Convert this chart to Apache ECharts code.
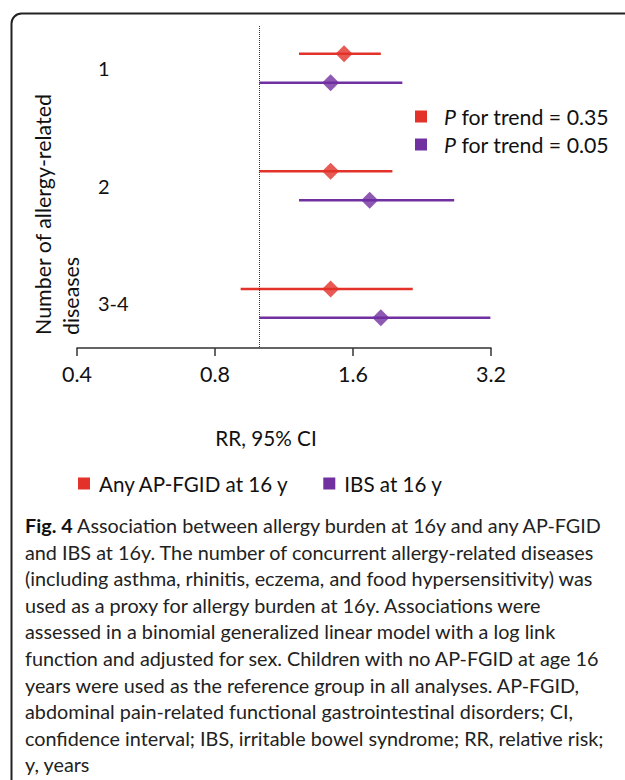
<!DOCTYPE html>
<html>
<head>
<meta charset="utf-8">
<script src="https://cdn.jsdelivr.net/npm/echarts@6/dist/echarts.min.js"></script>
<style>
html,body{margin:0;padding:0;background:#fff;}
#chart{width:625px;height:780px;}
</style>
</head>
<body>
<div id="chart"></div>
<script>
// ---- data ----
var categories = ['1', '2', '3-4'];
var seriesNames = ['Any AP-FGID at 16 y', 'IBS at 16 y'];
var trendLabels = ['0.35', '0.05'];
var anyRR = [1.53, 1.43, 1.43];
var anyLow = [1.22, 1.00, 0.91];
var anyHigh = [1.84, 1.95, 2.16];
var ibsRR = [1.43, 1.74, 1.84];
var ibsLow = [1.00, 1.22, 1.00];
var ibsHigh = [2.05, 2.66, 3.19];
var xTicks = [0.4, 0.8, 1.6, 3.2];
var refValue = 1.0;
var captionLines = [
  'Association between allergy burden at 16y and any AP-FGID',
  'and IBS at 16y. The number of concurrent allergy-related diseases',
  '(including asthma, rhinitis, eczema, and food hypersensitivity) was',
  'used as a proxy for allergy burden at 16y. Associations were',
  'assessed in a binomial generalized linear model with a log link',
  'function and adjusted for sex. Children with no AP-FGID at age 16',
  'years were used as the reference group in all analyses. AP-FGID,',
  'abdominal pain-related functional gastrointestinal disorders; CI,',
  'confidence interval; IBS, irritable bowel syndrome; RR, relative risk;',
  'y, years'
];

var FONT = 'Lato';
var colors = ['#E2322A', '#7030A0'];
var offsets = [-0.123, 0.123];

function pts(rr, k) {
  return rr.map(function (v, i) { return [v, i + offsets[k]]; });
}
function bars(lo, hi, k) {
  return lo.map(function (v, i) { return [v, hi[i], i + offsets[k]]; });
}
function errRender(params, api) {
  var a = api.coord([api.value(0), api.value(2)]);
  var b = api.coord([api.value(1), api.value(2)]);
  return {
    type: 'line',
    shape: {x1: a[0], y1: a[1], x2: b[0], y2: b[1]},
    style: {stroke: api.visual('color'), lineWidth: 2.5}
  };
}

var series = [];
[[anyRR, anyLow, anyHigh], [ibsRR, ibsLow, ibsHigh]].forEach(function (d, k) {
  series.push({
    name: seriesNames[k], type: 'custom', renderItem: errRender,
    itemStyle: {color: colors[k]},
    encode: {x: [0, 1], y: 2},
    data: bars(d[1], d[2], k), z: 2, silent: true,
    markLine: k === 0 ? {
      silent: true, symbol: 'none', label: {show: false},
      lineStyle: {type: 'dotted', color: '#333', width: 1},
      data: [{xAxis: refValue}]
    } : undefined
  });
  series.push({
    name: seriesNames[k], type: 'scatter', symbol: 'diamond', symbolSize: [17, 17],
    itemStyle: {color: colors[k]}, data: pts(d[0], k), z: 3
  });
});

var chart = echarts.init(document.getElementById('chart'), null, {renderer: 'svg'});

var graphics = [
  {type: 'rect', left: 9, top: 11, shape: {width: 640, height: 800, r: 10},
   style: {fill: 'none', stroke: '#222', lineWidth: 2}, z: -1},
  {type: 'text', x: 57, y: 335, rotation: Math.PI / 2,
   style: {text: 'Number of allergy-related\ndiseases', font: '21.4px ' + FONT, fill: '#111',
     textAlign: 'left', textVerticalAlign: 'middle', lineHeight: 28}}
];
captionLines.forEach(function (line, i) {
  graphics.push({
    type: 'text', x: 25, y: 525 + i * 26.6,
    style: {
      text: i === 0 ? '{b|Fig. 4} ' + line : line,
      rich: {b: {fontWeight: 'bold', fontSize: 19.8, fontFamily: FONT, fill: '#111'}},
      font: '19.8px ' + FONT, fill: '#222', textVerticalAlign: 'middle', textAlign: 'left'
    }
  });
});

chart.setOption({
  animation: false,
  textStyle: {fontFamily: FONT},
  grid: {left: 77, right: 134, top: 26, bottom: 432, containLabel: false},
  xAxis: {
    type: 'log', logBase: 2, min: 0.4, max: 3.2,
    axisLine: {onZero: false, lineStyle: {color: '#333', width: 1.5}},
    axisTick: {show: true, length: 8, inside: false, customValues: xTicks, lineStyle: {color: '#333', width: 1.5}},
    axisLabel: {customValues: xTicks, fontSize: 21.5, color: '#111', margin: 15, fontFamily: FONT,
      formatter: function (v) { return (Math.round(v * 10) / 10).toFixed(1); }},
    splitLine: {show: false}, minorTick: {show: false},
    name: 'RR, 95% CI', nameLocation: 'middle', nameGap: 79,
    nameTextStyle: {fontSize: 20.7, color: '#111', fontFamily: FONT, padding: [0, 36, 0, 0]}
  },
  yAxis: {
    type: 'value', inverse: true, min: -0.36, max: 2.38,
    axisLine: {show: false}, axisTick: {show: false}, splitLine: {show: false},
    axisLabel: {inside: true, margin: 21, customValues: [0, 1, 2], fontSize: 20, color: '#111',
      fontFamily: FONT, padding: [20, 0, 0, 0],
      formatter: function (v) { return categories[Math.round(v)]; }}
  },
  legend: [
    {data: seriesNames, left: 78, top: 473, padding: 0, icon: 'rect', itemWidth: 12, itemHeight: 12,
     itemGap: 34, textStyle: {fontSize: 20.6, color: '#111', fontFamily: FONT, padding: [0, 0, 0, 4]}},
    {data: seriesNames, left: 415, top: 106, padding: 0, orient: 'vertical', icon: 'rect',
     itemWidth: 12, itemHeight: 12, itemGap: 7,
     formatter: function (n) {
       return '{i|P} for trend = ' + trendLabels[seriesNames.indexOf(n)];
     },
     textStyle: {fontSize: 21.3, color: '#111', fontFamily: FONT, padding: [0, 0, 0, 12],
       rich: {i: {fontStyle: 'italic', fontSize: 21.3, fontFamily: FONT, color: '#111'}}}}
  ],
  graphic: graphics,
  series: series
});
</script>
</body>
</html>
